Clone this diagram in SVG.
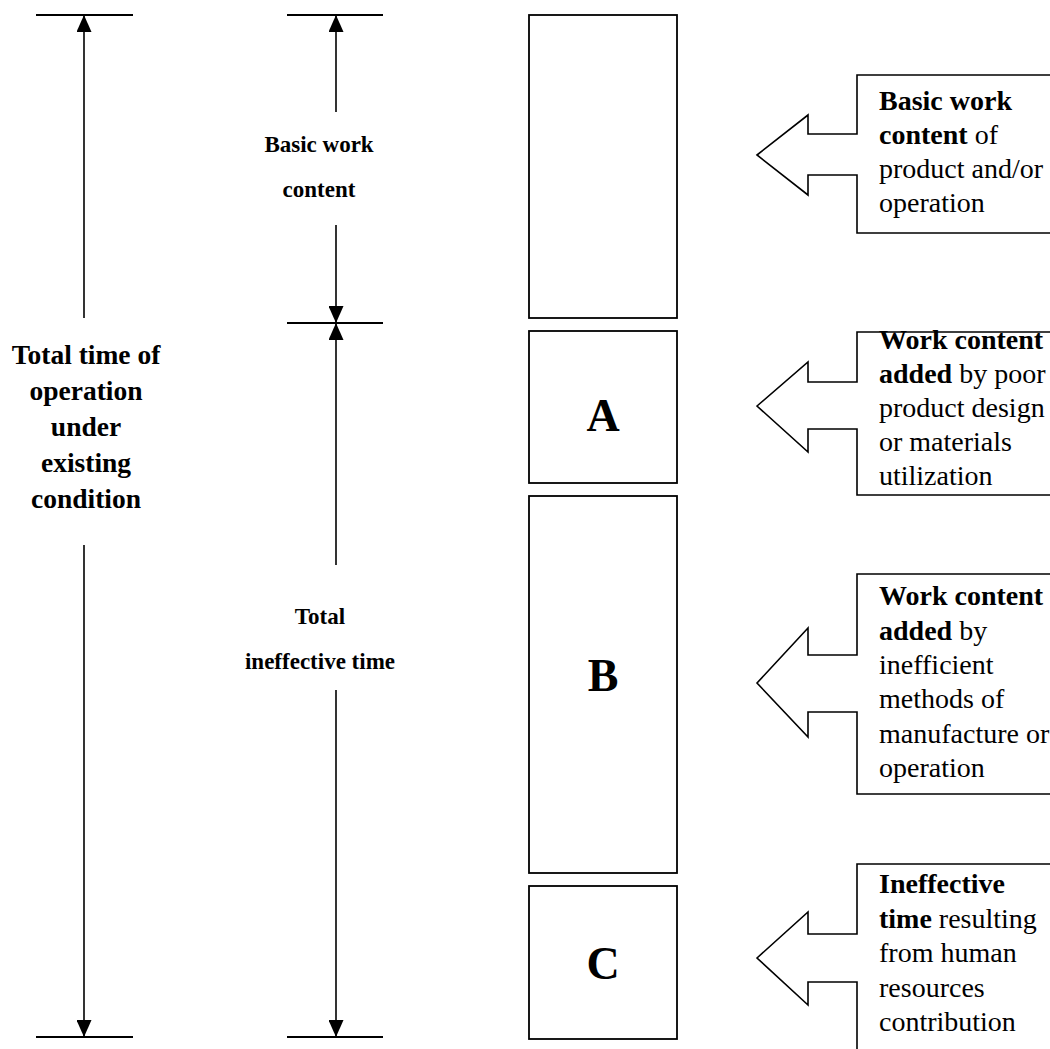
<svg xmlns="http://www.w3.org/2000/svg" width="1050" height="1049" viewBox="0 0 1050 1049">
<defs>
<style>
.ln{stroke:#000;stroke-width:1.6;fill:none}
.tick{stroke:#000;stroke-width:2;fill:none}
.box{stroke:#000;stroke-width:1.8;fill:#fff}
.call{stroke:#000;stroke-width:1.6;fill:#fff;stroke-linejoin:miter}
.lbl{font-family:"Liberation Serif","Times New Roman",serif;font-size:27.5px;font-weight:bold;fill:#000;text-anchor:middle}
.mid{font-family:"Liberation Serif","Times New Roman",serif;font-size:23px;font-weight:bold;fill:#000;text-anchor:middle}
.txt{font-family:"Liberation Serif","Times New Roman",serif;font-size:28px;fill:#000}
.big{font-family:"Liberation Serif","Times New Roman",serif;font-size:46px;font-weight:bold;fill:#000;text-anchor:middle}
</style>
<marker id="ah" viewBox="0 0 17 15" refX="17" refY="7.5" markerWidth="17" markerHeight="15" orient="auto" markerUnits="userSpaceOnUse">
<path d="M0,0 L17,7.5 L0,15 Z" fill="#000"/>
</marker>
</defs>
<rect width="1050" height="1049" fill="#fff"/>

<g id="connectors">
<line class="tick" x1="36" y1="15" x2="133" y2="15"/>
<line class="tick" x1="287" y1="15" x2="383" y2="15"/>
<line class="tick" x1="287" y1="323" x2="383" y2="323"/>
<line class="tick" x1="36" y1="1037" x2="133" y2="1037"/>
<line class="tick" x1="287" y1="1037" x2="383" y2="1037"/>
<line class="ln" x1="84" y1="318" x2="84" y2="15" marker-end="url(#ah)"/>
<line class="ln" x1="84" y1="545" x2="84" y2="1037" marker-end="url(#ah)"/>
<line class="ln" x1="336" y1="112" x2="336" y2="15" marker-end="url(#ah)"/>
<line class="ln" x1="336" y1="225" x2="336" y2="323" marker-end="url(#ah)"/>
<line class="ln" x1="336" y1="565" x2="336" y2="323" marker-end="url(#ah)"/>
<line class="ln" x1="336" y1="690" x2="336" y2="1037" marker-end="url(#ah)"/>
</g>

<g id="label-total">
<text class="lbl" x="86" y="364">Total time of</text>
<text class="lbl" x="86" y="400">operation</text>
<text class="lbl" x="86" y="436">under</text>
<text class="lbl" x="86" y="472">existing</text>
<text class="lbl" x="86" y="508">condition</text>
</g>
<g id="label-basic">
<text class="mid" x="319" y="152">Basic work</text>
<text class="mid" x="319" y="197">content</text>
</g>
<g id="label-ineffective">
<text class="mid" x="320" y="624">Total</text>
<text class="mid" x="320" y="669">ineffective time</text>
</g>

<g id="bar-basic"><rect class="box" x="529" y="15" width="148" height="303"/></g>
<g id="bar-A"><rect class="box" x="529" y="331" width="148" height="152"/><text class="big" x="603" y="431">A</text></g>
<g id="bar-B"><rect class="box" x="529" y="496" width="148" height="377"/><text class="big" x="603" y="691">B</text></g>
<g id="bar-C"><rect class="box" x="529" y="886" width="148" height="153"/><text class="big" x="603" y="979">C</text></g>

<g id="callout-1">
<polygon class="call" points="757,155 808,115 808,134 857,134 857,75 1053,75 1053,233 857,233 857,175 808,175 808,195"/>
<text class="txt"><tspan x="879" y="110" font-weight="bold">Basic work</tspan><tspan x="879" y="144"><tspan font-weight="bold">content</tspan> of</tspan><tspan x="879" y="178">product and/or</tspan><tspan x="879" y="212">operation</tspan></text>
</g>
<g id="callout-2">
<polygon class="call" points="757,406 808,362 808,382 857,382 857,332 1053,332 1053,495 857,495 857,429 808,429 808,452"/>
<text class="txt"><tspan x="879" y="349" font-weight="bold">Work content</tspan><tspan x="879" y="383"><tspan font-weight="bold">added</tspan> by poor</tspan><tspan x="879" y="417">product design</tspan><tspan x="879" y="451">or materials</tspan><tspan x="879" y="485">utilization</tspan></text>
</g>
<g id="callout-3">
<polygon class="call" points="757,683 808,628 808,655 857,655 857,574 1053,574 1053,794 857,794 857,712 808,712 808,737"/>
<text class="txt"><tspan x="879" y="605" font-weight="bold">Work content</tspan><tspan x="879" y="640"><tspan font-weight="bold">added</tspan> by</tspan><tspan x="879" y="674">inefficient</tspan><tspan x="879" y="708">methods of</tspan><tspan x="879" y="743">manufacture or</tspan><tspan x="879" y="777">operation</tspan></text>
</g>
<g id="callout-4">
<polygon class="call" points="757,958 808,912 808,934 857,934 857,864 1053,864 1053,1060 857,1060 857,982 808,982 808,1005"/>
<text class="txt"><tspan x="879" y="893" font-weight="bold">Ineffective</tspan><tspan x="879" y="928"><tspan font-weight="bold">time</tspan> resulting</tspan><tspan x="879" y="962">from human</tspan><tspan x="879" y="997">resources</tspan><tspan x="879" y="1031">contribution</tspan></text>
</g>
</svg>
